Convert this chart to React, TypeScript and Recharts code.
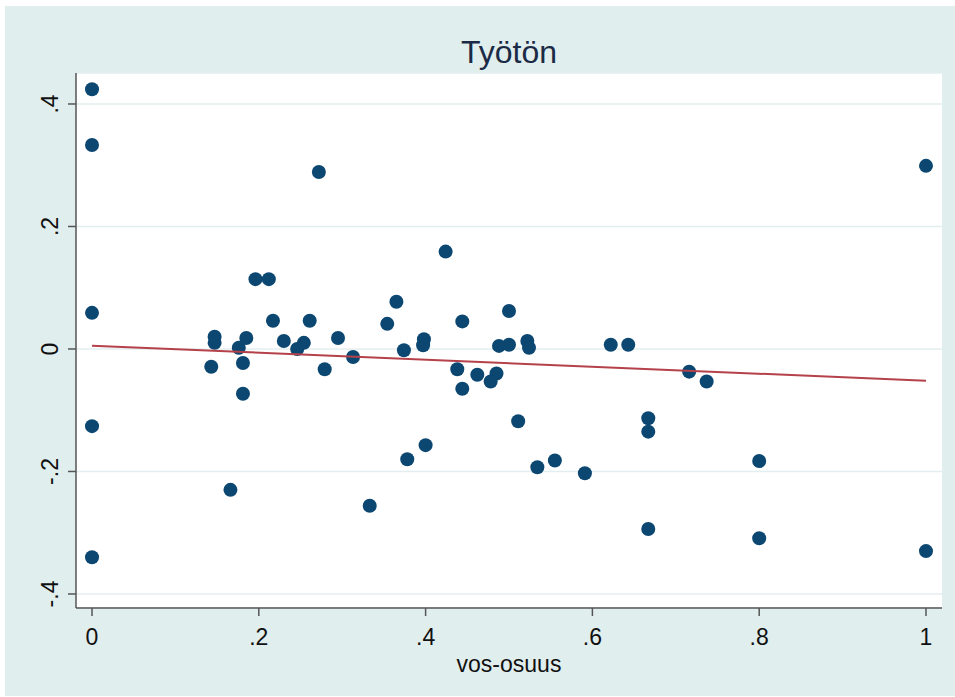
import { CartesianGrid, Label, Scatter, ScatterChart, XAxis, YAxis } from "recharts";

// vos-osuus (x) and Työtön residual (y)
const vosOsuus = [
	0, 0, 0, 0, 0, 0.272, 0.424, 0.196, 0.212, 0.365, 0.217, 0.261, 0.354, 0.444, 0.147, 0.147, 0.185, 0.176, 0.143,
	0.181, 0.181, 0.23, 0.246, 0.254, 0.295, 0.279, 0.313, 0.374, 0.398, 0.397, 0.5, 0.488, 0.5, 0.522, 0.524, 0.438,
	0.444, 0.462, 0.485, 0.478, 0.333, 0.166, 0.378, 0.4, 0.511, 0.534, 0.555, 0.591, 0.667, 0.667, 0.667, 0.716,
	0.737, 0.8, 0.8, 1, 0.622, 0.643, 1,
];
const tyoton = [
	0.424, 0.333, 0.059, -0.126, -0.34, 0.289, 0.159, 0.114, 0.114, 0.077, 0.046, 0.046, 0.041, 0.045, 0.02, 0.01,
	0.018, 0.002, -0.029, -0.023, -0.073, 0.013, 0.0, 0.01, 0.018, -0.033, -0.013, -0.002, 0.016, 0.006, 0.062, 0.005,
	0.007, 0.013, 0.002, -0.033, -0.065, -0.042, -0.04, -0.053, -0.256, -0.23, -0.18, -0.157, -0.118, -0.193, -0.182,
	-0.203, -0.113, -0.135, -0.294, -0.037, -0.053, -0.183, -0.309, -0.33, 0.007, 0.007, 0.299,
];

// fitted line end points
const fitX = [0, 1];
const fitY = [0.0054, -0.0518];

const xTicks = [0, 0.2, 0.4, 0.6, 0.8, 1];
const yTicks = [-0.4, -0.2, 0, 0.2, 0.4];

const points = vosOsuus.map((x, i) => ({ x, y: tyoton[i] }));
const fit = fitX.map((x, i) => ({ x, y: fitY[i] }));

const FONT = '"Liberation Sans", Arial, sans-serif';
const fmt = (v: number) => String(v).replace(/^(-?)0\./, "$1.");

const YTick = (props: any) => {
	const { x, y, payload } = props;
	return (
		<text
			x={x}
			y={y}
			transform={`rotate(-90, ${x}, ${y})`}
			textAnchor="middle"
			fontSize={23}
			fontFamily={FONT}
			fill="#111"
		>
			{fmt(payload.value)}
		</text>
	);
};

const Dot = (props: any) => <circle cx={props.cx} cy={props.cy} r={7} fill="#0b4771" />;

export default function App() {
	return (
		<div style={{ position: "absolute", left: 0, top: 0, width: 955, height: 697 }}>
			<div style={{ position: "absolute", left: 5, top: 6, width: 950, height: 690, background: "#e1eeee" }} />
			<svg style={{ position: "absolute", left: 0, top: 0 }} width={955} height={80}>
				<text x={509} y={63} textAnchor="middle" fontSize={32} fontFamily={FONT} fill="#1c2b45">
					Työtön
				</text>
			</svg>
			<div style={{ position: "absolute", left: 0, top: 0 }}>
				<ScatterChart width={955} height={697} margin={{ top: 73, right: 13, left: 6, bottom: 19 }}>
					<CartesianGrid vertical={false} fill="#ffffff" stroke="#e3eef0" strokeWidth={1.5} />
					<XAxis
						type="number"
						dataKey="x"
						domain={[-0.0192, 1.0192]}
						ticks={xTicks}
						tickFormatter={fmt}
						allowDataOverflow
						height={70}
						tickSize={8}
						tickMargin={13}
						axisLine={{ stroke: "#555", strokeWidth: 1.5 }}
						tickLine={{ stroke: "#555", strokeWidth: 1.5 }}
						tick={{ fontSize: 23, fontFamily: FONT, fill: "#111" }}
					>
						<Label
							value="vos-osuus"
							position="insideBottom"
							offset={6}
							style={{ fontSize: 23, fontFamily: FONT, fill: "#111" }}
						/>
					</XAxis>
					<YAxis
						type="number"
						dataKey="y"
						domain={[-0.4229, 0.4506]}
						ticks={yTicks}
						allowDataOverflow
						width={70}
						tickSize={8}
						tickMargin={10}
						axisLine={{ stroke: "#555", strokeWidth: 1.5 }}
						tickLine={{ stroke: "#555", strokeWidth: 1.5 }}
						tick={<YTick />}
					/>
					<Scatter data={points} shape={<Dot />} isAnimationActive={false} />
					<Scatter
						data={fit}
						line={{ stroke: "#b5414a", strokeWidth: 2 }}
						shape={() => <g />}
						isAnimationActive={false}
					/>
				</ScatterChart>
			</div>
		</div>
	);
}
